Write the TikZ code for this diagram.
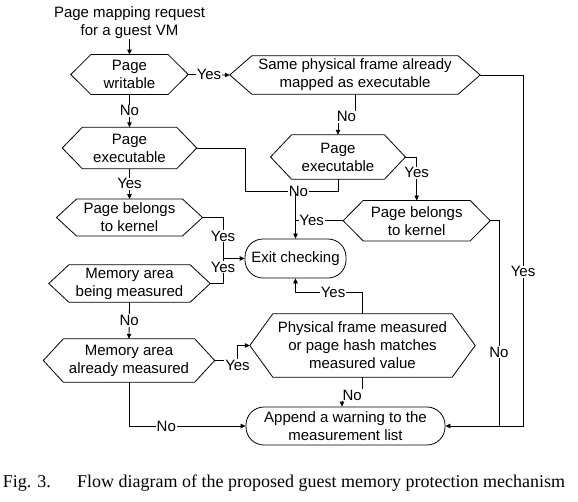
\documentclass[tikz,border=0pt]{standalone}
\usepackage{fontspec}
\setmainfont{Liberation Sans}
\newfontfamily\capfont{Liberation Serif}
\usetikzlibrary{arrows.meta,calc}
\newcommand\diagfont{\fontsize{15}{18}\selectfont}
\tikzset{
  txt/.style={rectangle, draw=none, inner sep=0pt, align=center, font=\diagfont},
  hexline/.style={draw=black, line width=0.8pt, line join=miter},
  term/.style={rectangle, draw=black, line width=0.8pt, rounded corners=18pt, inner sep=0pt, align=center, font=\diagfont},
  line/.style={draw=black, line width=0.8pt},
  conn/.style={line, -{Triangle[length=5pt,width=4.5pt]}},
  lbl/.style={fill=white, inner sep=0.8pt, font=\diagfont},
}
\newcommand\hexbox[7]{%
  \node[txt, minimum width=#4pt, minimum height=#5pt] (#1) at (#2,#3) {#7};
  \draw[hexline] (#1.west) -- ([xshift=#6pt]#1.north west) -- ([xshift=-#6pt]#1.north east) -- (#1.east) -- ([xshift=-#6pt]#1.south east) -- ([xshift=#6pt]#1.south west) -- cycle;
}
\begin{document}
\begin{tikzpicture}[x=1pt,y=-1pt]
\useasboundingbox (0,0) rectangle (578,501);
% nodes
\node[txt] (start) at (129.5,23) {Page mapping request\\for a guest VM};
\hexbox{wr}{129.5}{74.5}{117}{39.5}{20}{Page\\writable}
\hexbox{same}{355}{75}{250}{38}{22}{Same physical frame already\\mapped as executable}
\hexbox{exl}{129.5}{148}{134}{41}{20}{Page\\executable}
\hexbox{exr}{338}{157}{134.5}{44}{21}{Page\\executable}
\hexbox{kr}{416.7}{220.7}{146.7}{40}{20}{Page belongs\\to kernel}
\hexbox{kl}{129.5}{217.5}{145.6}{36.5}{20}{Page belongs\\to kernel}
\hexbox{mb}{129.5}{283.5}{161}{37}{20}{Memory area\\being measured}
\hexbox{ma}{129}{360.5}{171}{43}{20}{Memory area\\already measured}
\hexbox{phys}{362.5}{345.5}{225}{63}{23}{Physical frame measured\\or page hash matches\\measured value}
\node[term, minimum width=101pt, minimum height=39pt] (exit) at (295.5,258.5) {Exit checking};
\node[term, minimum width=199pt, minimum height=38pt] (app) at (345.5,426) {Append a warning to the\\measurement list};
\coordinate (J) at (295.5,191.7);
\coordinate (cN) at (499,426);
\coordinate (cY) at (523,426);
\coordinate (kY) at (223,258.5);
% connectors
\draw[conn] (start) -- (wr);
\draw[conn] (wr.east) -- node[lbl]{Yes} (same.west);
\draw[conn] (wr.south) -- node[lbl]{No} (exl.north);
\draw[conn] (exl.south) -- node[lbl]{Yes} (kl.north);
\draw[line] (exl.east) -- (245,148) |- (J);
\draw[line] (exr.south) |- (J);
\node[lbl] (noJ) at (298.5,191.7) {No};
\draw[conn] (J) -- (exit.north);
\draw[conn] (same.south) -- ++(0,22.5) -| node[lbl,pos=0.25]{No} (exr.north);
\draw[conn] (exr.east) -| node[lbl,pos=0.68]{Yes} (kr.north);
\draw[line] (kr.west) -- node[lbl,pos=0.66]{Yes} (kr.west -| J);
\draw[line] (same.east) -| node[lbl,pos=0.78]{Yes} (cY) -- (cN);
\draw[conn] (kr.east) -| node[lbl,pos=0.82]{No} (cN) -- (app.east);
\draw[conn] (kl.east) -| node[lbl,pos=0.725]{Yes} (kY) -- (exit.west);
\draw[line] (mb.east) -| node[lbl,pos=0.83]{Yes} (kY);
\draw[conn] (mb.south) -- node[lbl]{No} (ma.north);
\draw[conn] (ma.east) -- (237,360.5) -- (237,345.5) -- (phys.west);
\node[lbl] (yesM) at (237.5,365.5) {Yes};
\draw[conn] (phys.north) -- ++(0,-21) -| node[lbl,pos=0.22]{Yes} (exit.south);
\draw[conn] (phys.south) -- ++(0,18) -| node[lbl,pos=0.25]{No} ([xshift=-3.5pt]app.north);
\draw[conn] (ma.south) |- node[lbl,pos=0.66]{No} (app.west);
% caption
\node[anchor=base west, inner sep=0pt, font={\capfont\fontsize{18}{21}\selectfont}] (figno) at (2.7,487.7) {Fig. 3.};
\node[anchor=base west, inner sep=0pt, font={\capfont\fontsize{18}{21}\selectfont}] (cap) at (77,487.7) {Flow diagram of the proposed guest memory protection mechanism};
\end{tikzpicture}
\end{document}
